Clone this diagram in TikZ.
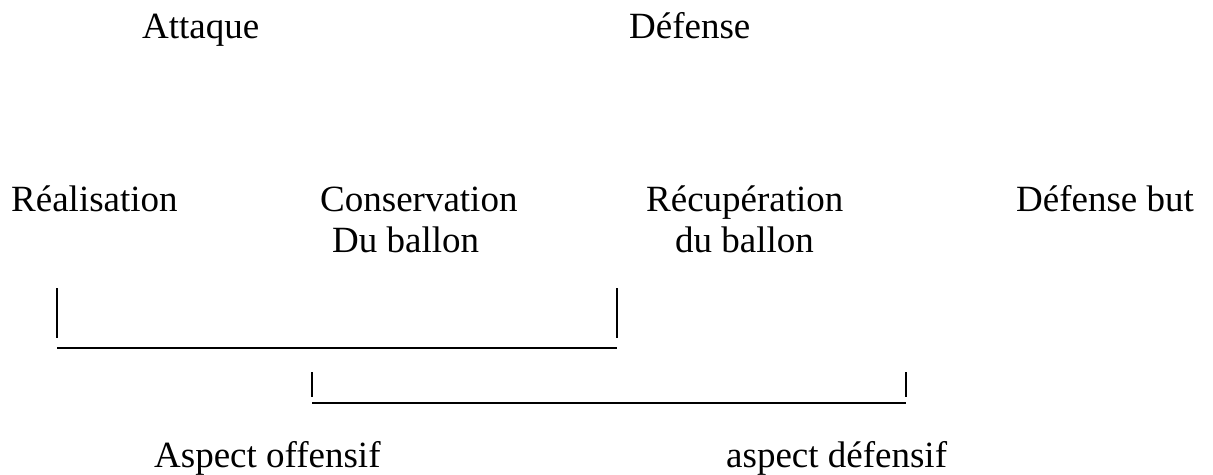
\documentclass[tikz,border=0pt]{standalone}
\usepackage{fontspec}
\setmainfont{Liberation Serif}
\begin{document}
\begin{tikzpicture}[x=1pt,y=-1pt,
  lbl/.style={anchor=base west,inner sep=0pt,font=\fontsize{37}{40}\selectfont},
  bar/.style={line width=1.8pt}]
\useasboundingbox (0,0) rectangle (1213,474);
\node[lbl] (att) at (142,38) {Attaque};
\node[lbl] (def) at (629,38) {Défense};
\node[lbl] (rea) at (11,211) {Réalisation};
\node[lbl] (con) at (320,211) {Conservation};
\node[lbl] (con2) at (332,252) {Du ballon};
\node[lbl] (rec) at (646,211) {Récupération};
\node[lbl] (rec2) at (675,252) {du ballon};
\node[lbl] (dbut) at (1016,211) {Défense but};
\node[lbl] (off) at (154,467) {Aspect offensif};
\node[lbl] (dfs) at (726,467) {aspect défensif};
% bracket 1
\coordinate (a1) at (57,288);
\coordinate (a2) at (57,338);
\coordinate (a3) at (617,288);
\coordinate (a4) at (617,338);
\coordinate (h1) at (57,348);
\coordinate (h2) at (617,348);
\draw[bar] (a1) -- (a2);
\draw[bar] (a3) -- (a4);
\draw[bar] (h1) -- (h2);
% bracket 2
\coordinate (b1) at (312,372);
\coordinate (b2) at (312,397);
\coordinate (b3) at (906,372);
\coordinate (b4) at (906,397);
\coordinate (k1) at (312,403);
\coordinate (k2) at (906,403);
\draw[bar] (b1) -- (b2);
\draw[bar] (b3) -- (b4);
\draw[bar] (k1) -- (k2);
\end{tikzpicture}
\end{document}
